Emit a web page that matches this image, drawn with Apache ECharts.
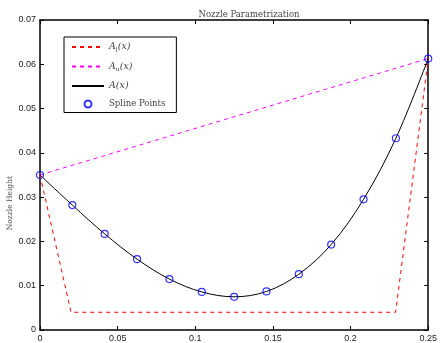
<!DOCTYPE html>
<html>
<head>
<meta charset="utf-8">
<script src="https://cdn.jsdelivr.net/npm/echarts@6/dist/echarts.min.js"></script>
<style>
  html, body { margin: 0; padding: 0; background: #fff; }
  #chart { width: 440px; height: 343px; }
</style>
</head>
<body>
<div id="chart"></div>
<script>
// spline control points
const splineX = [0, 0.020833, 0.041667, 0.0625, 0.083333, 0.104167, 0.125, 0.145833, 0.166667, 0.1875, 0.208333, 0.229167, 0.25];
const splineY = [0.0350, 0.0282, 0.0217, 0.0160, 0.0115, 0.0086, 0.0075, 0.0087, 0.0126, 0.0193, 0.0295, 0.0433, 0.0613];
// lower bound A_l(x)
const lowerX = [0, 0.02, 0.229, 0.25];
const lowerY = [0.0350, 0.0040, 0.0040, 0.0613];
// upper bound A_u(x)
const upperX = [0, 0.25];
const upperY = [0.0350, 0.0613];

const xTicks = ['0', '0.05', '0.1', '0.15', '0.2', '0.25'];
const yTicks = ['0', '0.01', '0.02', '0.03', '0.04', '0.05', '0.06', '0.07'];

const pairs = (xs, ys) => xs.map((x, i) => [x, ys[i]]);

const serif = 'DejaVu Serif';
const sans = 'Liberation Sans';

const myChart = echarts.init(document.getElementById('chart'));

const tickAxis = {
  axisLine: { show: true, onZero: false, lineStyle: { color: '#000', width: 1.5 } },
  axisTick: { show: true, inside: true, length: 4, lineStyle: { color: '#000', width: 1 } },
  splitLine: { show: false },
};

const noSymbol = { opacity: 0 };

const option = {
  animation: false,
  title: {
    text: 'Nozzle Parametrization',
    left: 244,
    textAlign: 'center',
    top: 5,
    textStyle: { fontFamily: serif, fontSize: 8.5, fontWeight: 'normal', color: '#444' },
  },
  graphic: [
    {
      type: 'text',
      left: 6,
      top: 176,
      rotation: Math.PI / 2,
      style: { text: 'Nozzle Height', fontFamily: serif, fontSize: 7.5, fill: '#555' },
    },
  ],
  legend: {
    orient: 'vertical',
    left: 64,
    top: 37,
    padding: [5, 11, 4, 7],
    itemWidth: 32,
    itemHeight: 7,
    itemGap: 8.5,
    borderColor: '#000',
    borderWidth: 1,
    textStyle: {
      fontFamily: serif,
      fontSize: 8.5,
      color: '#444',
      rich: {
        i: { fontFamily: serif, fontStyle: 'italic', fontSize: 9.5, color: '#444' },
        s: { fontFamily: serif, fontSize: 6, color: '#444', padding: [6, 0, 0, 0] },
      },
    },
    formatter: function (name) {
      if (name === 'Al') return '{i|A}{s|l}{i|(x)}';
      if (name === 'Au') return '{i|A}{s|u}{i|(x)}';
      if (name === 'A') return '{i|A(x)}';
      return name;
    },
    data: [
      { name: 'Al', itemStyle: noSymbol },
      { name: 'Au', itemStyle: noSymbol },
      { name: 'A', itemStyle: noSymbol },
      { name: 'Spline Points' },
    ],
  },
  grid: { left: 40, right: 7, top: 20, bottom: 13, containLabel: false },
  xAxis: [
    Object.assign({}, tickAxis, {
      type: 'value',
      min: 0,
      max: 0.25,
      interval: 0.05,
      axisLabel: {
        margin: 4,
        fontFamily: sans,
        fontSize: 9,
        color: '#222',
        formatter: (v) => xTicks[Math.round(v / 0.05)],
      },
    }),
    Object.assign({}, tickAxis, {
      type: 'value',
      position: 'top',
      min: 0,
      max: 0.25,
      interval: 0.05,
      axisLabel: { show: false },
    }),
  ],
  yAxis: [
    Object.assign({}, tickAxis, {
      type: 'value',
      min: 0,
      max: 0.07,
      interval: 0.01,
      axisLabel: {
        margin: 4,
        fontFamily: sans,
        fontSize: 9,
        color: '#222',
        formatter: (v) => yTicks[Math.round(v / 0.01)],
      },
    }),
    Object.assign({}, tickAxis, {
      type: 'value',
      position: 'right',
      min: 0,
      max: 0.07,
      interval: 0.01,
      axisLabel: { show: false },
    }),
  ],
  series: [
    {
      name: 'Al',
      type: 'line',
      symbol: 'none',
      data: pairs(lowerX, lowerY),
      lineStyle: { color: '#ff0000', width: 1, type: [4, 4] },
      itemStyle: { color: '#ff0000' },
      z: 3,
    },
    {
      name: 'Au',
      type: 'line',
      symbol: 'none',
      data: pairs(upperX, upperY),
      lineStyle: { color: '#ff00ff', width: 1, type: [4, 4] },
      itemStyle: { color: '#ff00ff' },
      z: 3,
    },
    {
      name: 'A',
      type: 'line',
      symbol: 'none',
      smooth: 0.35,
      data: pairs(splineX, splineY),
      lineStyle: { color: '#000', width: 1 },
      itemStyle: { color: '#000' },
      z: 4,
    },
    {
      name: 'Spline Points',
      type: 'scatter',
      symbol: 'circle',
      symbolSize: 7,
      data: pairs(splineX, splineY),
      itemStyle: { color: 'rgba(0,0,0,0)', borderColor: '#0000ff', borderWidth: 1.2 },
      z: 5,
    },
  ],
};

myChart.setOption(option);
</script>
</body>
</html>
